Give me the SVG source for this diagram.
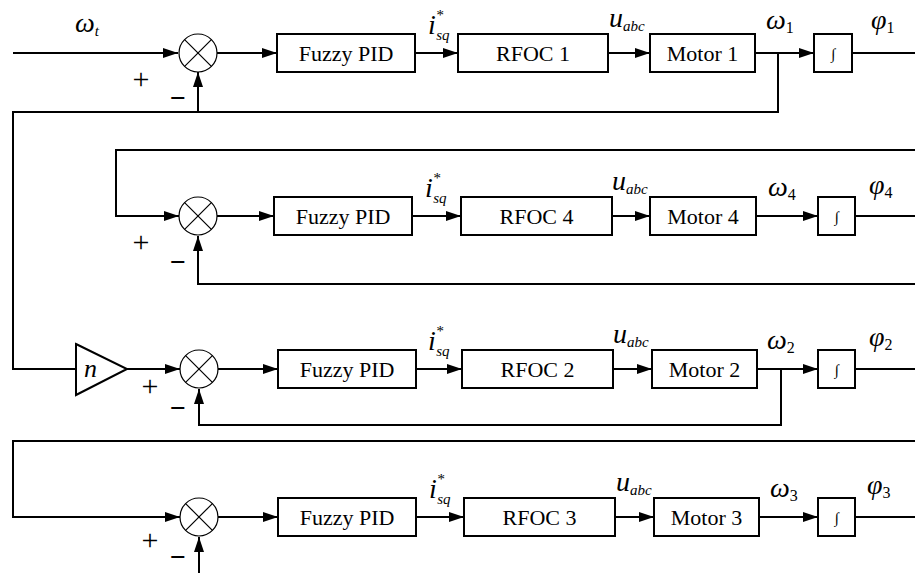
<svg xmlns="http://www.w3.org/2000/svg" width="915" height="573" viewBox="0 0 915 573" font-family="Liberation Serif, DejaVu Serif, serif">
<style>
.w{fill:none;stroke:#000;stroke-width:2}
.a{fill:none;stroke:#000;stroke-width:2;marker-end:url(#ah)}
.box{fill:#fff;stroke:#000;stroke-width:2}
.sum{fill:#fff;stroke:#000;stroke-width:1.2}
text{font-family:'Liberation Serif','DejaVu Serif','Times New Roman',serif;fill:#000}
.t{font-size:22px;text-anchor:middle}
.m{font-style:italic;font-size:28px}
.s{font-size:16px;font-style:normal}
.si{font-size:15px;font-style:italic}
.pm{font-size:30px;text-anchor:middle}
.mn{font-size:28px;font-weight:bold;text-anchor:middle}
</style>
<defs>
<marker id="ah" markerUnits="userSpaceOnUse" markerWidth="16" markerHeight="12" refX="15" refY="5" orient="auto">
<path d="M0,0 L15,5 L0,10 z" fill="#000"/>
</marker>
<symbol id="x" overflow="visible"><line x1="-13.4" y1="-13.4" x2="13.4" y2="13.4" stroke="#000" stroke-width="1.2"/><line x1="-13.4" y1="13.4" x2="13.4" y2="-13.4" stroke="#000" stroke-width="1.2"/></symbol>
</defs>

<g id="connectors">
<path class="a" d="M13,53 H178"/>
<path class="a" d="M217,53 H277"/>
<path class="a" d="M415,53 H458"/>
<path class="a" d="M608,53 H650"/>
<path class="a" d="M755,53 H814"/>
<path class="w" d="M852,53 H915"/>
<path class="w" d="M778,53 V112 H13 V369 H76"/>
<path class="a" d="M198,112 V72"/>
<path class="a" d="M915,150 H116 V216 H179"/>
<path class="a" d="M217,216 H274"/>
<path class="a" d="M412,216 H461"/>
<path class="a" d="M612,216 H650"/>
<path class="a" d="M756,216 H818"/>
<path class="w" d="M855,216 H915"/>
<path class="a" d="M915,284 H198 V236"/>
<path class="a" d="M127,369 H180"/>
<path class="a" d="M218,369 H278"/>
<path class="a" d="M416,369 H462"/>
<path class="a" d="M613,369 H652"/>
<path class="a" d="M757,369 H818"/>
<path class="w" d="M855,369 H915"/>
<path class="a" d="M781,369 V425 H199 V389"/>
<path class="a" d="M915,441 H13 V517 H180"/>
<path class="a" d="M218,517 H278"/>
<path class="a" d="M416,517 H464"/>
<path class="a" d="M615,517 H654"/>
<path class="a" d="M759,517 H818"/>
<path class="w" d="M855,517 H915"/>
<path class="a" d="M199,573 V537"/>
</g>

<g id="sum1"><circle class="sum" cx="198" cy="53" r="19"/><use href="#x" x="198" y="53"/></g>
<g id="fpid1"><rect class="box" x="277" y="34" width="138" height="38"/><text class="t" x="346" y="61">Fuzzy PID</text></g>
<g id="rfoc1"><rect class="box" x="458" y="34" width="150" height="38"/><text class="t" x="533" y="61">RFOC 1</text></g>
<g id="motor1"><rect class="box" x="650" y="34" width="105" height="38"/><text class="t" x="702.5" y="61">Motor 1</text></g>
<g id="int1"><rect class="box" x="814" y="34" width="38" height="38"/><text class="t" x="833" y="59" style="font-size:15px">∫</text></g>

<g id="sum4"><circle class="sum" cx="198" cy="216" r="19"/><use href="#x" x="198" y="216"/></g>
<g id="fpid4"><rect class="box" x="274" y="197" width="138" height="38"/><text class="t" x="343" y="224">Fuzzy PID</text></g>
<g id="rfoc4"><rect class="box" x="461" y="197" width="151" height="38"/><text class="t" x="536.5" y="224">RFOC 4</text></g>
<g id="motor4"><rect class="box" x="650" y="197" width="106" height="38"/><text class="t" x="703" y="224">Motor 4</text></g>
<g id="int4"><rect class="box" x="818" y="197" width="37" height="38"/><text class="t" x="836.5" y="222" style="font-size:15px">∫</text></g>

<g id="gain"><path class="box" d="M76,344 L127,369 L76,395 z"/><text class="m" x="84" y="377" style="font-size:26px">n</text></g>
<g id="sum2"><circle class="sum" cx="199" cy="369" r="19"/><use href="#x" x="199" y="369"/></g>
<g id="fpid2"><rect class="box" x="278" y="350" width="138" height="38"/><text class="t" x="347" y="377">Fuzzy PID</text></g>
<g id="rfoc2"><rect class="box" x="462" y="350" width="151" height="38"/><text class="t" x="537.5" y="377">RFOC 2</text></g>
<g id="motor2"><rect class="box" x="652" y="350" width="105" height="38"/><text class="t" x="704.5" y="377">Motor 2</text></g>
<g id="int2"><rect class="box" x="818" y="350" width="37" height="38"/><text class="t" x="836.5" y="375" style="font-size:15px">∫</text></g>

<g id="sum3"><circle class="sum" cx="199" cy="517" r="19"/><use href="#x" x="199" y="517"/></g>
<g id="fpid3"><rect class="box" x="278" y="498" width="138" height="38"/><text class="t" x="347" y="525">Fuzzy PID</text></g>
<g id="rfoc3"><rect class="box" x="464" y="498" width="151" height="38"/><text class="t" x="539.5" y="525">RFOC 3</text></g>
<g id="motor3"><rect class="box" x="654" y="498" width="105" height="38"/><text class="t" x="706.5" y="525">Motor 3</text></g>
<g id="int3"><rect class="box" x="818" y="498" width="37" height="38"/><text class="t" x="836.5" y="523" style="font-size:15px">∫</text></g>

<g id="labels">
<text class="m" x="75" y="32">ω<tspan class="si" dy="4">t</tspan></text>
<text class="pm" x="141" y="89">+</text>
<text class="mn" x="178" y="107">−</text>
<text class="m" x="428" y="34">i<tspan class="si" dx="0" dy="-14">*</tspan><tspan class="si" dx="-7" dy="20">sq</tspan></text>
<text class="m" x="609" y="27">u<tspan class="si" dy="4">abc</tspan></text>
<text class="m" x="766" y="29">ω<tspan class="s" dy="4">1</tspan></text>
<text class="m" x="871" y="29">φ<tspan class="s" dy="4">1</tspan></text>

<text class="pm" x="141" y="252">+</text>
<text class="mn" x="178" y="271">−</text>
<text class="m" x="425" y="197">i<tspan class="si" dx="0" dy="-14">*</tspan><tspan class="si" dx="-7" dy="20">sq</tspan></text>
<text class="m" x="612" y="190">u<tspan class="si" dy="4">abc</tspan></text>
<text class="m" x="768" y="196">ω<tspan class="s" dy="4">4</tspan></text>
<text class="m" x="869" y="194">φ<tspan class="s" dy="4">4</tspan></text>

<text class="pm" x="150" y="396">+</text>
<text class="mn" x="178" y="417">−</text>
<text class="m" x="428" y="350">i<tspan class="si" dx="0" dy="-14">*</tspan><tspan class="si" dx="-7" dy="20">sq</tspan></text>
<text class="m" x="613" y="343">u<tspan class="si" dy="4">abc</tspan></text>
<text class="m" x="767" y="349">ω<tspan class="s" dy="4">2</tspan></text>
<text class="m" x="869" y="346">φ<tspan class="s" dy="4">2</tspan></text>

<text class="pm" x="150" y="550">+</text>
<text class="mn" x="178" y="566">−</text>
<text class="m" x="429" y="498">i<tspan class="si" dx="0" dy="-14">*</tspan><tspan class="si" dx="-7" dy="20">sq</tspan></text>
<text class="m" x="616" y="491">u<tspan class="si" dy="4">abc</tspan></text>
<text class="m" x="770" y="497">ω<tspan class="s" dy="4">3</tspan></text>
<text class="m" x="867" y="494">φ<tspan class="s" dy="4">3</tspan></text>
</g>
</svg>
